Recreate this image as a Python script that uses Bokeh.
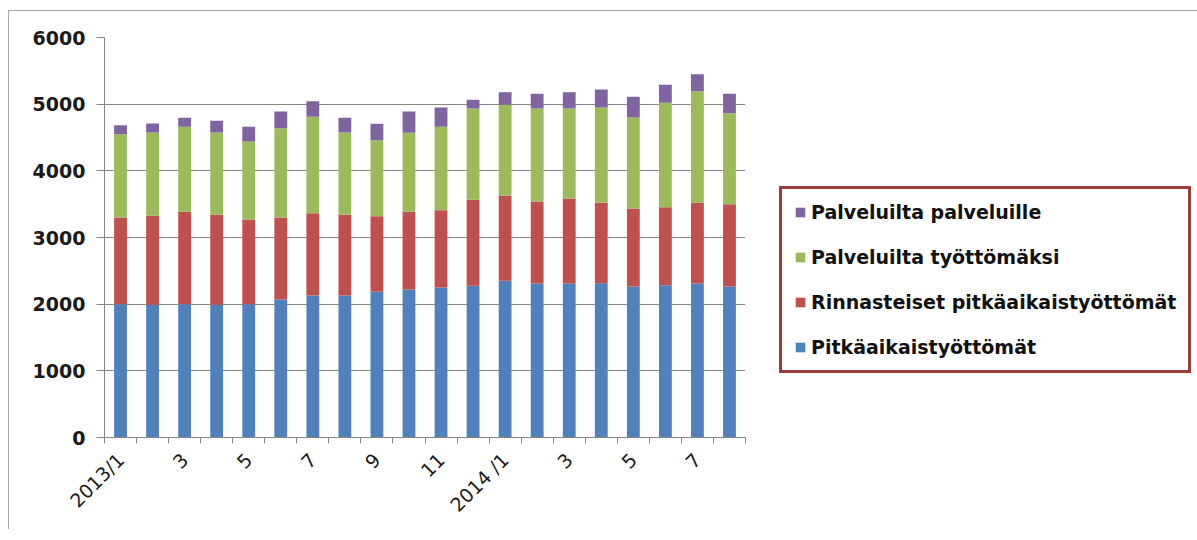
from math import pi
from bokeh.plotting import figure
from bokeh.models import (ColumnDataSource, Legend, LegendItem, FixedTicker,
                          Range1d)
from bokeh.embed import file_html
from bokeh.resources import INLINE

# ---- data ----
months = list(range(1, 21))  # 2013/1 .. 2014/8
tick_positions = [1, 3, 5, 7, 9, 11, 13, 15, 17, 19]
tick_labels = ["2013/1", "3", "5", "7", "9", "11", "2014 /1", "3", "5", "7"]

pitkaaikais = [2000, 1990, 2000, 1990, 2000, 2070, 2130, 2130, 2185, 2220,
               2250, 2275, 2350, 2310, 2310, 2315, 2265, 2285, 2310, 2265]
rinnasteiset = [1300, 1335, 1385, 1350, 1270, 1230, 1235, 1210, 1135, 1165,
                1160, 1290, 1280, 1230, 1275, 1205, 1170, 1170, 1210, 1235]
palv_tyottomaksi = [1250, 1250, 1275, 1235, 1170, 1340, 1445, 1235, 1140, 1185,
                    1250, 1370, 1360, 1395, 1350, 1430, 1365, 1565, 1675, 1365]
palv_palveluille = [135, 135, 135, 175, 220, 250, 235, 220, 245, 320,
                    290, 130, 190, 220, 245, 270, 310, 270, 255, 290]

series_names = ["Pitkäaikaistyöttömät", "Rinnasteiset pitkäaikaistyöttömät",
                "Palveluilta työttömäksi", "Palveluilta palveluille"]
colors = ["#4F81BD", "#C0504D", "#9BBB59", "#8064A2"]

keys = ["s0", "s1", "s2", "s3"]
source = ColumnDataSource(dict(x=months, s0=pitkaaikais, s1=rinnasteiset,
                               s2=palv_tyottomaksi, s3=palv_palveluille))

p = figure(frame_width=641, frame_height=400, output_backend="svg",
           toolbar_location=None,
           x_range=Range1d(0.5, 20.5), y_range=Range1d(0, 6000),
           min_border_left=95, min_border_right=30,
           min_border_top=26, min_border_bottom=92)
p.styles = {"border-top": "1px solid #a6a6a6", "border-left": "1px solid #a6a6a6",
            "margin-top": "10px", "margin-left": "8px"}
p.outline_line_color = None
p.background_fill_color = "white"
p.border_fill_color = "white"

renderers = p.vbar_stack(keys, x="x", width=0.4, color=colors, source=source,
                         line_color=None)

font = "DejaVu Sans"
grey = "#868686"

# y axis
p.yaxis.ticker = FixedTicker(ticks=[0, 1000, 2000, 3000, 4000, 5000, 6000])
p.yaxis.axis_line_color = grey
p.yaxis.major_tick_line_color = grey
p.yaxis.major_tick_out = 8
p.yaxis.major_tick_in = 0
p.yaxis.minor_tick_line_color = None
p.yaxis.major_label_text_font = font
p.yaxis.major_label_text_font_style = "bold"
p.yaxis.major_label_text_font_size = "19px"
p.yaxis.major_label_text_color = "#1a1a1a"
p.yaxis.major_label_standoff = 11

# x axis
p.xaxis.ticker = FixedTicker(ticks=tick_positions,
                             minor_ticks=[m - 0.5 for m in months] + [months[-1] + 0.5])
p.xaxis.major_label_overrides = {t: l for t, l in zip(tick_positions, tick_labels)}
p.xaxis.axis_line_color = grey
p.xaxis.major_tick_line_color = None
p.xaxis.major_tick_out = 0
p.xaxis.major_tick_in = 0
p.xaxis.minor_tick_line_color = grey
p.xaxis.minor_tick_out = 6
p.xaxis.minor_tick_in = 0
p.xaxis.major_label_orientation = pi / 4
p.xaxis.major_label_text_font = font
p.xaxis.major_label_text_font_size = "19px"
p.xaxis.major_label_text_color = "#1a1a1a"
p.xaxis.major_label_standoff = 13

# grid
p.xgrid.grid_line_color = None
p.ygrid.grid_line_color = grey
p.ygrid.grid_line_width = 1

# legend (reverse order: top entry is the top of the stack)
items = [LegendItem(label=series_names[i], renderers=[renderers[i]])
         for i in reversed(range(4))]
legend = Legend(items=items, location=(34, 64), orientation="vertical")
legend.border_line_color = "#9E3B38"
legend.border_line_alpha = 1.0
legend.border_line_width = 3
legend.background_fill_color = "white"
legend.background_fill_alpha = 1
legend.label_text_font = font
legend.label_text_font_style = "bold"
legend.label_text_font_size = "19px"
legend.label_text_color = "#111111"
legend.glyph_width = 12
legend.glyph_height = 12
legend.label_standoff = 5
legend.label_height = 20
legend.spacing = 23
legend.padding = 12
legend.margin = 0
p.add_layout(legend, "right")

open("out.html", "w").write(file_html(p, INLINE))
